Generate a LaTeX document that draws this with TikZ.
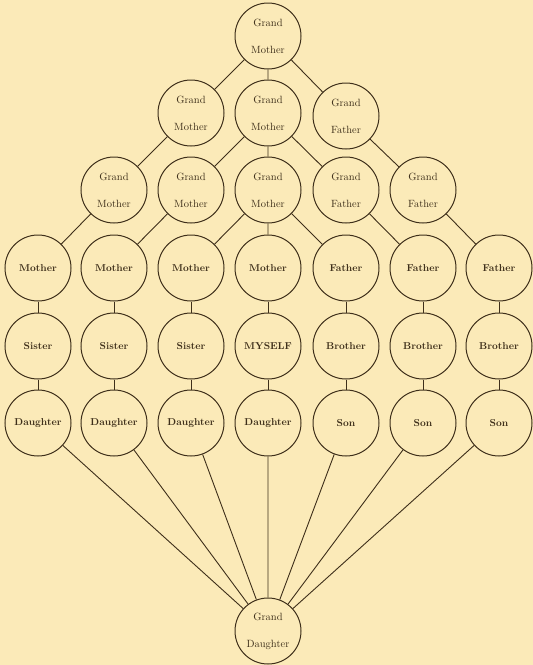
\documentclass[tikz,border=0pt]{standalone}
\usepackage{tikz}
\usetikzlibrary{positioning}
\usepackage{xcolor}
\definecolor{paper}{RGB}{251,234,184}
\definecolor{ink}{RGB}{62,47,26}

\begin{document}
\begin{tikzpicture}[x=1pt,y=-1pt,
  person/.style={draw=ink,circle,line width=1pt,minimum size=66pt,inner sep=0pt,fill=paper,text=ink,font=\fontsize{10}{12}\selectfont\bfseries},
  elder/.style={person,align=center,font=\fontsize{10.5}{27}\selectfont},
  link/.style={draw=ink,line width=0.9pt}]
\fill[paper] (0,0) rectangle (533,665);
\useasboundingbox (0,0) rectangle (533,665);
% ancestors
\node[elder] (top) at (268,36) {Grand\\Mother};
\node[elder] (gmL) at (191,113) {Grand\\Mother};
\node[elder] (gmM) at (268,113) {Grand\\Mother};
\node[elder] (gfR) at (346,116) {Grand\\Father};
\node[elder] (g1) at (114,190) {Grand\\Mother};
\node[elder] (g2) at (191,190) {Grand\\Mother};
\node[elder] (g3) at (268,190) {Grand\\Mother};
\node[elder] (g4) at (346,190) {Grand\\Father};
\node[elder] (g5) at (423,190) {Grand\\Father};
% parents
\node[person] (m1) at (38,268) {Mother};
\node[person] (m2) at (114,268) {Mother};
\node[person] (m3) at (191,268) {Mother};
\node[person] (m4) at (268,268) {Mother};
\node[person] (f5) at (346,268) {Father};
\node[person] (f6) at (423,268) {Father};
\node[person] (f7) at (499,268) {Father};
% siblings
\node[person] (s1) at (38,346) {Sister};
\node[person] (s2) at (114,346) {Sister};
\node[person] (s3) at (191,346) {Sister};
\node[person] (me) at (268,346) {MYSELF};
\node[person] (b5) at (346,346) {Brother};
\node[person] (b6) at (423,346) {Brother};
\node[person] (b7) at (499,346) {Brother};
% children
\node[person] (d1) at (38,423) {Daughter};
\node[person] (d2) at (114,423) {Daughter};
\node[person] (d3) at (191,423) {Daughter};
\node[person] (d4) at (268,423) {Daughter};
\node[person] (n5) at (346,423) {Son};
\node[person] (n6) at (423,423) {Son};
\node[person] (n7) at (499,423) {Son};
\node[elder] (gd) at (268,631) {Grand\\Daughter};
% lines of descent
\draw[link] (top) -- (gmL) (top) -- (gmM) (top) -- (gfR);
\draw[link] (gmL) -- (g1) (gmM) -- (g2) (gmM) -- (g3) (gmM) -- (g4) (gfR) -- (g5);
\draw[link] (g1) -- (m1) (g2) -- (m2) (g3) -- (m3) (g3) -- (m4) (g3) -- (f5) (g4) -- (f6) (g5) -- (f7);
\draw[link] (m1) -- (s1) (m2) -- (s2) (m3) -- (s3) (m4) -- (me) (f5) -- (b5) (f6) -- (b6) (f7) -- (b7);
\draw[link] (s1) -- (d1) (s2) -- (d2) (s3) -- (d3) (me) -- (d4) (b5) -- (n5) (b6) -- (n6) (b7) -- (n7);
\draw[link] (d1) -- (gd) (d2) -- (gd) (d3) -- (gd) (d4) -- (gd) (n5) -- (gd) (n6) -- (gd) (n7) -- (gd);
\end{tikzpicture}
\end{document}
